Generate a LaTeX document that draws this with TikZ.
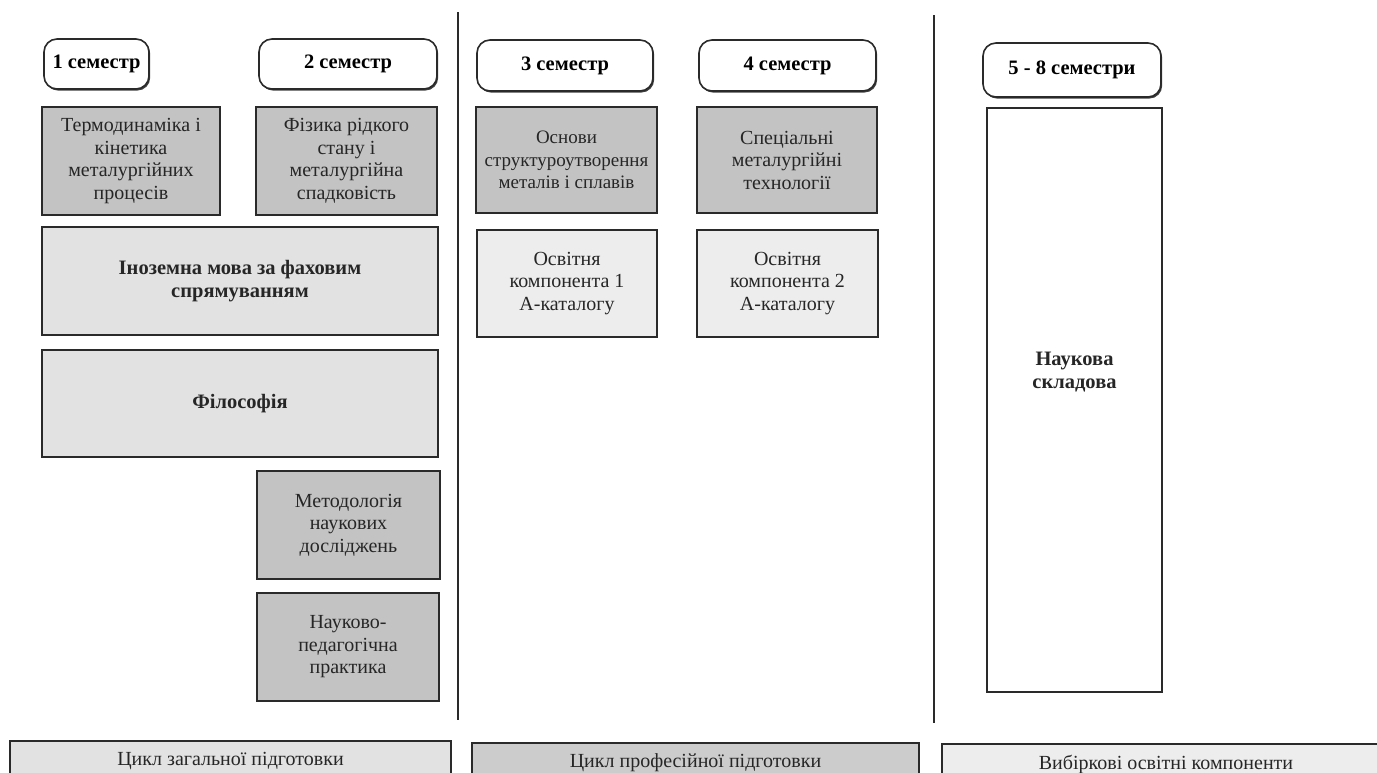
\documentclass[tikz,border=0pt]{standalone}
\usepackage{fontspec}
\setmainfont{Liberation Serif}
\usetikzlibrary{shadows}
\definecolor{darkfill}{HTML}{C3C3C3}
\definecolor{lightfill}{HTML}{E2E2E2}
\definecolor{palefill}{HTML}{EDEDED}
\definecolor{inkline}{HTML}{2A2A2A}
\tikzset{
  base/.style={draw=inkline, line width=2.4pt, inner sep=2pt, align=center,
    font=\fontsize{20}{22.5}\selectfont, text=black!85},
  darkbox/.style={base, fill=darkfill},
  lightbox/.style={base, fill=lightfill, font=\bfseries\fontsize{20.5}{23.5}\selectfont},
  palebox/.style={base, fill=palefill},
  whitebox/.style={base, fill=white},
  sembox/.style={draw=inkline, line width=1.6pt, fill=white, rounded corners=13pt,
    drop shadow={shadow xshift=1.2pt, shadow yshift=-1.6pt, fill=black!75, opacity=1},
    font=\bfseries\fontsize{20.5}{23}\selectfont, align=center},
  legbox/.style={base, font=\fontsize{20}{22}\selectfont, text depth=0pt},
  divider/.style={draw=inkline, line width=2.2pt}
}
\begin{document}
\begin{tikzpicture}[x=1pt,y=-1pt]
\useasboundingbox (0,0) rectangle (1377,772);
\clip (0,0) rectangle (1377,772);
% semester headers
\node[sembox, minimum width=105pt, minimum height=50pt] (s1) at (96.5,64) {1 семестр};
\node[sembox, minimum width=178pt, minimum height=50pt] (s2) at (348,64) {2 семестр};
\node[sembox, minimum width=176pt, minimum height=51pt] (s3) at (565,65.5) {3 семестр};
\node[sembox, minimum width=177pt, minimum height=51pt] (s4) at (787.5,65.5) {4 семестр};
\node[sembox, minimum width=178pt, minimum height=54pt] (s58) at (1072,70) {5 - 8 семестри};
% dark boxes
\node[darkbox, minimum width=178pt, minimum height=108pt] (d1) at (131,161)
  {Термодинаміка і\\кінетика\\металургійних\\процесів};
\node[darkbox, minimum width=181pt, minimum height=108pt] (d2) at (346.5,161)
  {Фізика рідкого\\стану і\\металургійна\\спадковість};
\node[darkbox, minimum width=181pt, minimum height=106pt, font=\fontsize{19}{22.5}\selectfont] (d3) at (566.5,160)
  {Основи\\структуроутворення\\металів і сплавів};
\node[darkbox, minimum width=180pt, minimum height=106pt] (d4) at (787,160)
  {Спеціальні\\металургійні\\технології};
% catalog boxes
\node[palebox, minimum width=180pt, minimum height=107pt] (a1) at (567,283.5)
  {Освітня\\компонента 1\\А-каталогу};
\node[palebox, minimum width=181pt, minimum height=107pt] (a2) at (787.5,283.5)
  {Освітня\\компонента 2\\А-каталогу};
% general boxes
\node[lightbox, minimum width=396pt, minimum height=108pt] (ino) at (240,281)
  {Іноземна мова за фаховим\\спрямуванням};
\node[lightbox, minimum width=396pt, minimum height=107pt] (phil) at (240,403.5)
  {Філософія};
\node[darkbox, minimum width=183pt, minimum height=108pt] (met) at (348.5,525)
  {Методологія\\наукових\\досліджень};
\node[darkbox, minimum width=182pt, minimum height=108pt] (prak) at (348,647)
  {Науково-\\педагогічна\\практика};
% research component
\node[whitebox, minimum width=175pt, minimum height=584pt] (nauk) at (1074.5,400) {};
\node[font=\bfseries\fontsize{20.5}{23}\selectfont, align=center, text=black!85] (nauktxt) at (1074.5,372)
  {Наукова\\складова};
% dividers
\coordinate (v1t) at (458,12);
\coordinate (v1b) at (458,720);
\coordinate (v2t) at (934,15);
\coordinate (v2b) at (934,723);
\draw[divider] (v1t) -- (v1b);
\draw[divider] (v2t) -- (v2b);
% legend
\node[legbox, fill=lightfill, minimum width=441pt, minimum height=36pt] (l1) at (230.5,759)
  {Цикл загальної підготовки};
\node[legbox, fill=darkfill!85!white, minimum width=447pt, minimum height=36pt] (l2) at (695.5,761)
  {Цикл професійної підготовки};
\node[legbox, fill=palefill, minimum width=448pt, minimum height=36pt] (l3) at (1166,762)
  {Вибіркові освітні компоненти};
\end{tikzpicture}
\end{document}
